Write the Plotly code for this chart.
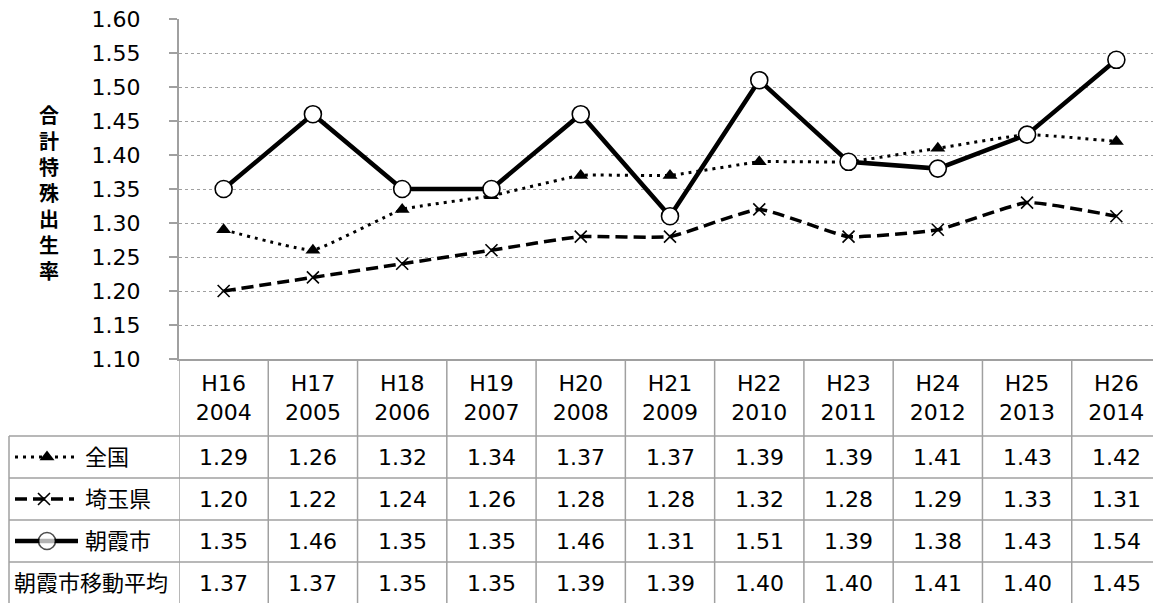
import plotly.graph_objects as go

# ---------------- data ----------------
era_labels = ["H16", "H17", "H18", "H19", "H20", "H21", "H22", "H23", "H24", "H25", "H26"]
year_labels = ["2004", "2005", "2006", "2007", "2008", "2009", "2010", "2011", "2012", "2013", "2014"]
zenkoku = [1.29, 1.26, 1.32, 1.34, 1.37, 1.37, 1.39, 1.39, 1.41, 1.43, 1.42]
saitama = [1.20, 1.22, 1.24, 1.26, 1.28, 1.28, 1.32, 1.28, 1.29, 1.33, 1.31]
asaka = [1.35, 1.46, 1.35, 1.35, 1.46, 1.31, 1.51, 1.39, 1.38, 1.43, 1.54]
asaka_ma = [1.37, 1.37, 1.35, 1.35, 1.39, 1.39, 1.40, 1.40, 1.41, 1.40, 1.45]
row_names = ["全国", "埼玉県", "朝霞市", "朝霞市移動平均"]
y_title = "合計特殊出生率"
y_ticks = [1.10, 1.15, 1.20, 1.25, 1.30, 1.35, 1.40, 1.45, 1.50, 1.55, 1.60]

# ---------------- geometry (target pixels in the 1161x603 page) ----------------
PAGE_W, PAGE_H = 1161, 603
OFF = 8                                  # default page body margin
FW, FH = PAGE_W - OFF, PAGE_H - OFF      # figure size
PL, PR, PT, PB = 179, 1161, 19, 359      # plot area (page px)
HEADER_BOTTOM = 436
ROW_H = 42
TABLE_LEFT = 9

def X(px):
    return (px - OFF) / FW

def Y(py):
    return 1 - (py - OFF) / FH

GRAY = "#a0a0a0"
FONT = "DejaVu Sans, Noto Sans CJK JP"
FS = 22

cats = [f"{e}<br>{y}" for e, y in zip(era_labels, year_labels)]

fig = go.Figure()

fig.add_trace(go.Scatter(
    x=cats, y=saitama, mode="lines+markers", name="埼玉県",
    line=dict(color="black", width=3.5, dash="12px,6px", shape="spline", smoothing=0.4),
    marker=dict(symbol="x-thin", size=12, line=dict(color="black", width=1.6)),
    showlegend=False, cliponaxis=False))
fig.add_trace(go.Scatter(
    x=cats, y=zenkoku, mode="lines+markers", name="全国",
    line=dict(color="black", width=3, dash="3px,5px", shape="spline", smoothing=0.3),
    marker=dict(symbol="triangle-up", size=13, color="black"),
    showlegend=False, cliponaxis=False))
fig.add_trace(go.Scatter(
    x=cats, y=asaka, mode="lines+markers", name="朝霞市",
    line=dict(color="black", width=4.5),
    marker=dict(symbol="circle", size=17, color="white", line=dict(color="black", width=1.6)),
    showlegend=False, cliponaxis=False))

# ---------------- legend keys in the table's first column ----------------
row_centers = [HEADER_BOTTOM + ROW_H * (i + 0.5) for i in range(4)]
key_x0, key_x1, key_mid = 15, 78, 47
fig.add_trace(go.Scatter(
    x=[key_x0, key_x1], y=[row_centers[0]] * 2, mode="lines", xaxis="x2", yaxis="y2",
    line=dict(color="black", width=3, dash="3px,5px"), showlegend=False, hoverinfo="skip"))
fig.add_trace(go.Scatter(
    x=[key_mid], y=[row_centers[0]], mode="markers", xaxis="x2", yaxis="y2",
    marker=dict(symbol="triangle-up", size=13, color="black"), showlegend=False, hoverinfo="skip"))
fig.add_trace(go.Scatter(
    x=[key_x0, key_x1 - 4], y=[row_centers[1]] * 2, mode="lines", xaxis="x2", yaxis="y2",
    line=dict(color="black", width=3.5, dash="12px,6px"), showlegend=False, hoverinfo="skip"))
fig.add_trace(go.Scatter(
    x=[key_mid - 3], y=[row_centers[1]], mode="markers", xaxis="x2", yaxis="y2",
    marker=dict(symbol="x-thin", size=12, line=dict(color="black", width=1.6)),
    showlegend=False, hoverinfo="skip"))
fig.add_trace(go.Scatter(
    x=[key_x0, key_mid, key_x1], y=[row_centers[2]] * 3, mode="lines+markers", xaxis="x2", yaxis="y2",
    line=dict(color="black", width=4.5),
    marker=dict(symbol="circle", size=[0, 17, 0], color="white", line=dict(color="black", width=1.6)),
    showlegend=False, hoverinfo="skip"))

shapes = []
annotations = []

# ---------------- table lines ----------------
line_style = dict(color=GRAY, width=1.5)
for i in range(4):
    py = HEADER_BOTTOM + ROW_H * i
    shapes.append(dict(type="line", xref="paper", yref="paper",
                       x0=X(TABLE_LEFT), x1=X(PAGE_W), y0=Y(py), y1=Y(py), line=line_style))
shapes.append(dict(type="line", xref="paper", yref="paper",
                   x0=X(TABLE_LEFT), x1=X(TABLE_LEFT), y0=Y(HEADER_BOTTOM), y1=Y(PAGE_H), line=line_style))
for i in range(len(cats)):
    shapes.append(dict(type="line", xref="x", yref="paper",
                       x0=i - 0.5, x1=i - 0.5, y0=Y(PB), y1=Y(PAGE_H), line=line_style))

# ---------------- table text ----------------
for i, vals in enumerate([zenkoku, saitama, asaka, asaka_ma]):
    for j, v in enumerate(vals):
        annotations.append(dict(x=j, y=Y(row_centers[i]), xref="x", yref="paper",
                                text=f"{v:.2f}", showarrow=False,
                                font=dict(family=FONT, size=FS, color="black"),
                                xanchor="center", yanchor="middle"))
label_x = [83, 83, 83, 12]
for i, name in enumerate(row_names):
    annotations.append(dict(x=X(label_x[i]), y=Y(row_centers[i]), xref="paper", yref="paper",
                            text=name, showarrow=False,
                            font=dict(family=FONT, size=FS, color="black"),
                            xanchor="left", yanchor="middle"))

annotations.append(dict(x=X(49), y=Y(192), xref="paper", yref="paper",
                        text="<br>".join(list(y_title)), showarrow=False,
                        font=dict(family="Noto Sans CJK JP", size=20, color="black", weight="bold"),
                        xanchor="center", yanchor="middle"))

fig.update_layout(
    width=FW, height=FH, autosize=False,
    margin=dict(l=0, r=0, t=0, b=0, pad=0, autoexpand=False),
    paper_bgcolor="white", plot_bgcolor="white",
    font=dict(family=FONT, size=FS, color="black"),
    xaxis=dict(domain=[X(PL), X(PR)], type="category", range=[-0.5, len(cats) - 0.5],
               showgrid=False, showline=True, linecolor=GRAY, linewidth=2,
               ticks="", tickfont=dict(family=FONT, size=FS, color="black"),
               ticklabelstandoff=4, zeroline=False, automargin=False),
    yaxis=dict(domain=[Y(PB), Y(PT)], range=[y_ticks[0], y_ticks[-1]],
               tickvals=y_ticks, tickformat=".2f",
               showgrid=True, gridcolor=GRAY, gridwidth=1, griddash="dot",
               showline=True, linecolor=GRAY, linewidth=2,
               ticks="outside", ticklen=8, tickcolor=GRAY, tickwidth=1.5,
               tickfont=dict(family=FONT, size=FS, color="black"),
               ticklabelstandoff=24, ticklabeloverflow="allow",
               zeroline=False, automargin=False),
    xaxis2=dict(domain=[0, X(PL)], range=[OFF, PL], visible=False, fixedrange=True, automargin=False),
    yaxis2=dict(domain=[0, Y(HEADER_BOTTOM)], range=[PAGE_H, HEADER_BOTTOM], visible=False,
                fixedrange=True, automargin=False),
    shapes=shapes,
    annotations=annotations,
)

fig.write_html("out.html")
